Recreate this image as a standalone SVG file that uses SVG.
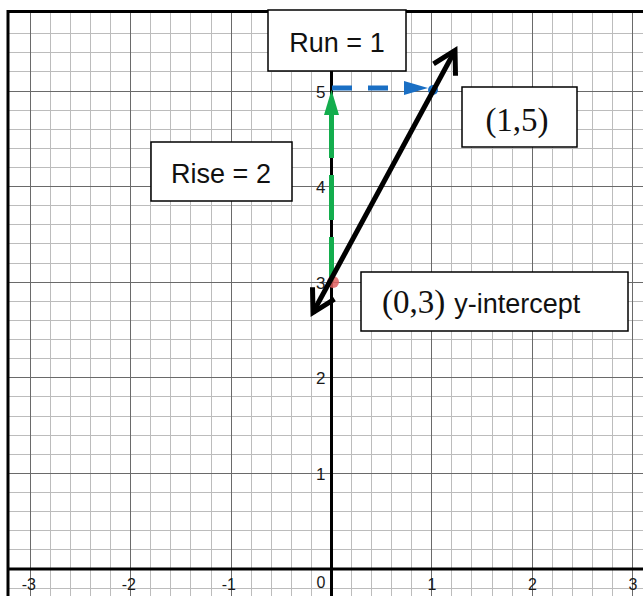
<svg xmlns="http://www.w3.org/2000/svg" width="643" height="596" viewBox="0 0 643 596">
<style>
.minor{stroke:#bcbcbc;stroke-width:1;fill:none}
.major{stroke:#6a6a6a;stroke-width:1;fill:none}
.axis{stroke:#000;stroke-width:3;fill:none}
.tick{font-family:"Liberation Sans",Arial,sans-serif;font-size:16px;fill:#1a1a1a}
.box{fill:#fff;stroke:#000;stroke-width:1.5}
.lbl{font-family:"Liberation Sans",Arial,sans-serif;font-size:27px;fill:#111}
.math{font-family:"Liberation Serif","Times New Roman",serif;font-size:33px;fill:#111}
</style>
<defs>
<marker id="chev" markerUnits="userSpaceOnUse" viewBox="-30 -20 40 40" markerWidth="40" markerHeight="40" refX="0" refY="0" orient="auto-start-reverse">
<path d="M-22,-12.5 L0,0 L-22,12.5" fill="none" stroke="#000" stroke-width="5"/>
</marker>
<marker id="triG" markerUnits="userSpaceOnUse" viewBox="-30 -15 32 30" markerWidth="32" markerHeight="30" refX="-25" refY="0" orient="auto">
<path d="M-25,-7.5 L0,0 L-25,7.5 Z" fill="#13ad4d"/>
</marker>
<marker id="triB" markerUnits="userSpaceOnUse" viewBox="-30 -15 32 30" markerWidth="32" markerHeight="30" refX="-24" refY="0" orient="auto">
<path d="M-24,-7 L0,0 L-24,7 Z" fill="#1a6fc4"/>
</marker>
</defs>
<rect width="643" height="596" fill="#fff"/>
<g id="grid">
<path class="minor" d="M50.5,12V596M70.5,12V596M90.5,12V596M110.5,12V596M150.5,12V596M170.5,12V596M190.5,12V596M211.5,12V596M251.5,12V596M271.5,12V596M291.5,12V596M311.5,12V596M351.5,12V596M371.5,12V596M391.5,12V596M411.5,12V596M451.5,12V596M471.5,12V596M492.5,12V596M512.5,12V596M552.5,12V596M572.5,12V596M592.5,12V596M612.5,12V596"/>
<path class="minor" d="M8,588.5H643M8,549.5H643M8,530.5H643M8,511.5H643M8,492.5H643M8,454.5H643M8,435.5H643M8,416.5H643M8,396.5H643M8,358.5H643M8,339.5H643M8,320.5H643M8,301.5H643M8,263.5H643M8,243.5H643M8,224.5H643M8,205.5H643M8,167.5H643M8,148.5H643M8,129.5H643M8,110.5H643M8,71.5H643M8,52.5H643M8,33.5H643"/>
<path class="major" d="M30.5,12V596M130.5,12V596M231.5,12V596M431.5,12V596M532.5,12V596M632.5,12V596M8,473.5H643M8,377.5H643M8,282.5H643M8,186.5H643M8,91.5H643"/>
<path class="axis" d="M8,10V596M7,11.5H643"/>
<path class="axis" d="M8,569H643M331.5,12V596"/>
</g>
<g id="ticks" class="tick">
<text x="36" y="590" text-anchor="end">-3</text>
<text x="136" y="590" text-anchor="end">-2</text>
<text x="236" y="590" text-anchor="end">-1</text>
<text x="325.5" y="588" text-anchor="end">0</text>
<text x="432" y="590" text-anchor="middle">1</text>
<text x="532.5" y="590" text-anchor="middle">2</text>
<text x="633" y="590" text-anchor="middle">3</text>
<text x="325.5" y="480" text-anchor="end" font-size="17">1</text>
<text x="325.5" y="384.3" text-anchor="end" font-size="17">2</text>
<text x="325.5" y="288.7" text-anchor="end" font-size="17">3</text>
<text x="325.5" y="193" text-anchor="end" font-size="17">4</text>
<text x="325.5" y="97.5" text-anchor="end" font-size="17">5</text>
</g>
<g id="node-run">
<rect class="box" x="268" y="10" width="138" height="61"/>
<text class="lbl" x="337" y="52" text-anchor="middle">Run = 1</text>
</g>
<g id="node-rise">
<rect class="box" x="151" y="142" width="141" height="59"/>
<text class="lbl" x="221" y="183" text-anchor="middle">Rise = 2</text>
</g>
<g id="node-point15">
<rect class="box" x="462" y="87" width="115" height="60"/>
<text class="math" x="517" y="131" text-anchor="middle">(1,5)</text>
</g>
<g id="node-intercept">
<rect class="box" x="361" y="272" width="267" height="59"/>
<text x="382" y="313"><tspan class="math">(0,3)</tspan><tspan class="lbl" dx="9" font-size="29">y-intercept</tspan></text>
</g>
<g id="connectors">
<line x1="331.5" y1="282" x2="331.5" y2="115" stroke="#13ad4d" stroke-width="5" stroke-dasharray="45 17" marker-end="url(#triG)"/>
<line x1="332" y1="88" x2="404" y2="88" stroke="#1a6fc4" stroke-width="5" stroke-dasharray="20 16" marker-end="url(#triB)"/>
<circle cx="333" cy="282" r="6" fill="#e06060" fill-opacity="0.85"/>
<circle cx="433" cy="90" r="5" fill="#1a6fc4"/>
<line x1="313" y1="312.5" x2="455" y2="50.5" stroke="#000" stroke-width="5" marker-start="url(#chev)" marker-end="url(#chev)"/>
</g>
</svg>
